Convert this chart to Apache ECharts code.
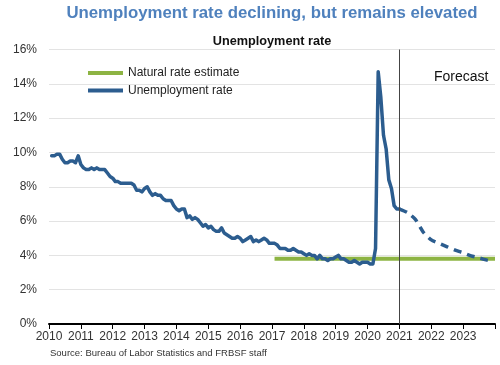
<!DOCTYPE html>
<html><head><meta charset="utf-8">
<script src="https://cdn.jsdelivr.net/npm/echarts@6/dist/echarts.min.js"></script>
<style>html,body{margin:0;padding:0;background:#fff}#c{width:500px;height:365px}</style>
</head><body><div id="c"></div>
<script>
// Monthly unemployment rate (%), Jan 2010 – Dec 2020
const years = [2010,2011,2012,2013,2014,2015,2016,2017,2018,2019,2020];
const rate2010 = [9.8,9.8,9.9,9.9,9.6,9.4,9.4,9.5,9.5,9.4,9.8,9.3];
const rate2011 = [9.1,9.0,9.0,9.1,9.0,9.1,9.0,9.0,9.0,8.8,8.6,8.5];
const rate2012 = [8.3,8.3,8.2,8.2,8.2,8.2,8.2,8.1,7.8,7.8,7.7,7.9];
const rate2013 = [8.0,7.7,7.5,7.6,7.5,7.5,7.3,7.2,7.2,7.2,6.9,6.7];
const rate2014 = [6.6,6.7,6.7,6.2,6.3,6.1,6.2,6.1,5.9,5.7,5.8,5.6];
const rate2015 = [5.7,5.5,5.4,5.4,5.6,5.3,5.2,5.1,5.0,5.0,5.1,5.0];
const rate2016 = [4.8,4.9,5.0,5.1,4.8,4.9,4.8,4.9,5.0,4.9,4.7,4.7];
const rate2017 = [4.7,4.6,4.4,4.4,4.4,4.3,4.3,4.4,4.3,4.2,4.2,4.1];
const rate2018 = [4.0,4.1,4.0,4.0,3.8,4.0,3.8,3.8,3.7,3.8,3.8,3.9];
const rate2019 = [4.0,3.8,3.8,3.7,3.6,3.6,3.7,3.6,3.5,3.6,3.6,3.6];
const rate2020 = [3.5,3.5,4.4,14.7,13.2,11.0,10.2,8.4,7.9,6.9,6.7,6.7];
const monthlyRates = [rate2010,rate2011,rate2012,rate2013,rate2014,rate2015,rate2016,rate2017,rate2018,rate2019,rate2020];

// Forecast (decimal years) and values
const forecastDates = [2021.0,2021.25,2021.5,2021.75,2022.0,2022.25,2022.5,2022.75,2023.0,2023.25,2023.5,2023.75,2023.9];
const forecastRates = [6.7,6.5,6.1,5.35,4.9,4.7,4.5,4.3,4.15,3.97,3.85,3.72,3.65];

// Natural rate estimate
const naturalDates = [2017.08,2024];
const naturalRates = [3.8,3.8];

const yTicks = [0,2,4,6,8,10,12,14,16];
const xYears = [2010,2011,2012,2013,2014,2015,2016,2017,2018,2019,2020,2021,2022,2023];

const actual = [];
years.forEach((y,i)=>monthlyRates[i].forEach((v,m)=>actual.push([y+(m+1)/12, v])));
const forecast = forecastDates.map((d,i)=>[d, forecastRates[i]]);
const natural = naturalDates.map((d,i)=>[d, naturalRates[i]]);

const BLUE = '#2c5d8f', GREEN = '#8db443';
const FONT = '"Liberation Sans", Arial, sans-serif';

const chart = echarts.init(document.getElementById('c'), null, {renderer:'canvas'});
chart.setOption({
  animation:false,
  textStyle:{fontFamily:FONT},
  title:[
    {text:'Unemployment rate declining, but remains elevated', left:267, top:0, textAlign:'center',
     textStyle:{fontFamily:FONT, fontSize:16.8, fontWeight:'bold', color:'#4f81bd'}},
    {text:'Unemployment rate', left:267, top:30, textAlign:'center',
     textStyle:{fontFamily:FONT, fontSize:12.7, fontWeight:'bold', color:'#111'}},
    {text:'Source: Bureau of Labor Statistics and FRBSF staff', left:45, top:343,
     textStyle:{fontFamily:FONT, fontSize:9.5, fontWeight:'normal', color:'#333'}}
  ],
  legend:{
    orient:'vertical', left:83, top:62, itemWidth:35, itemHeight:4, itemGap:5.5,
    icon:'rect',
    data:['Natural rate estimate','Unemployment rate'],
    textStyle:{fontFamily:FONT, fontSize:12, color:'#222'}
  },
  grid:{left:49, right:5, top:49.5, bottom:41},
  xAxis:{
    type:'value', min:2010, max:2024, interval:1,
    axisLine:{show:true, lineStyle:{color:'#000', width:2}},
    axisTick:{show:true, length:5, lineStyle:{color:'#000', width:1}},
    splitLine:{show:false},
    axisLabel:{fontFamily:FONT, fontSize:12, color:'#333', margin:7,
      formatter:v=> xYears.indexOf(v)>=0 ? String(v) : ''}
  },
  yAxis:{
    type:'value', min:yTicks[0], max:yTicks[yTicks.length-1], interval:2,
    axisLine:{show:false}, axisTick:{show:false},
    splitLine:{lineStyle:{color:'#e3e3e3', width:1}},
    axisLabel:{fontFamily:FONT, fontSize:12, color:'#333', margin:12, formatter:'{value}%'}
  },
  series:[
    {name:'Natural rate estimate', type:'line', data:natural, symbol:'none',
     lineStyle:{color:GREEN, width:4}, itemStyle:{color:GREEN}, z:2},
    {name:'Unemployment rate', type:'line', data:actual, symbol:'none',
     lineStyle:{color:BLUE, width:3.5, join:'round', cap:'round'}, itemStyle:{color:BLUE}, z:3,
     markLine:{silent:true, symbol:'none', label:{show:false},
       lineStyle:{color:'#444', width:1, type:'solid'},
       data:[[{coord:[2021,0]},{coord:[2021,16]}]]}},
    {name:'Forecast', type:'line', data:forecast, symbol:'none', smooth:0.2,
     lineStyle:{color:BLUE, width:3.5, type:[8,6]}, itemStyle:{color:BLUE}, z:3}
  ],
  graphic:[
    {type:'text', left:434, top:70, style:{text:'Forecast', font:'14px '+FONT, fill:'#111'}}
  ]
});
</script></body></html>
